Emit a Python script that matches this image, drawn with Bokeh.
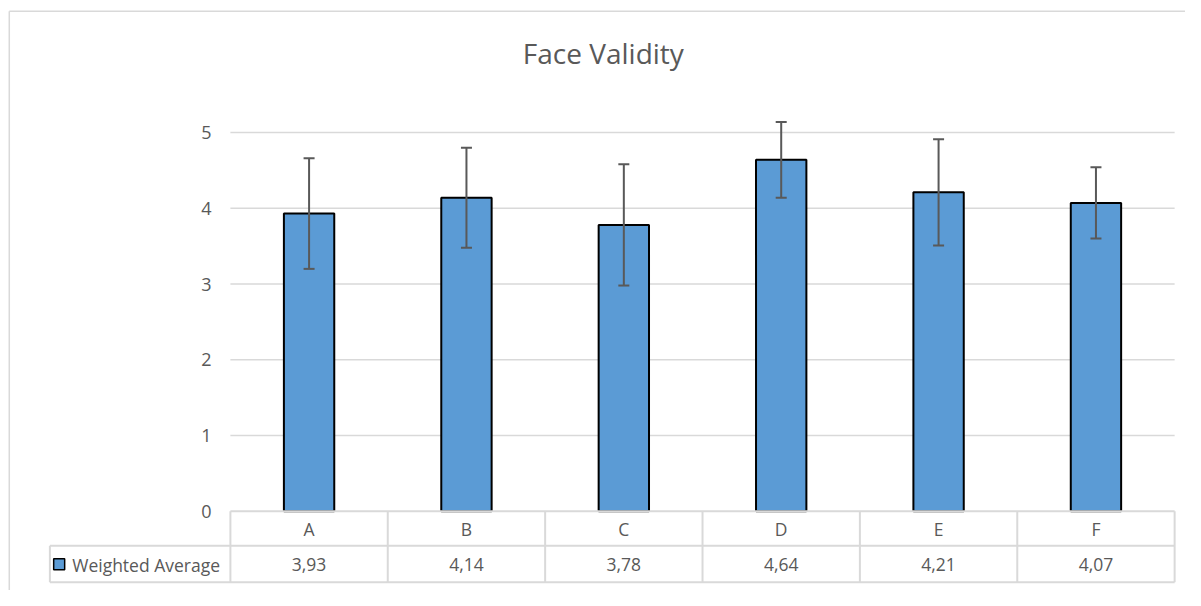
from bokeh.plotting import figure
from bokeh.models import Range1d, ColumnDataSource, Whisker, TeeHead
from bokeh.core.properties import value
from bokeh.embed import file_html
from bokeh.resources import INLINE

# ---- data ----
categories = ["A", "B", "C", "D", "E", "F"]
weighted_average = [3.93, 4.14, 3.78, 4.64, 4.21, 4.07]
error = [0.73, 0.66, 0.80, 0.50, 0.70, 0.47]
value_labels = ["3,93", "4,14", "3,78", "4,64", "4,21", "4,07"]
y_ticks = [0, 1, 2, 3, 4, 5]
series_name = "Weighted Average"
title_text = "Face Validity"

# ---- styles ----
BAR = "#5B9BD5"
GRID = "#D9D9D9"
TXT = "#595959"
FONT = value("Open Sans")

W, H = 1185, 590
p = figure(width=W, height=H, output_backend="svg", toolbar_location=None,
           x_range=Range1d(-1.4608, 6.069), y_range=Range1d(-1.0463, 6.743),
           min_border=0, outline_line_color=None)
p.axis.visible = False
p.xgrid.visible = False
p.ygrid.visible = False

n = len(categories)
centers = [i + 0.5 for i in range(n)]

# chart border (top + left)
p.segment(x0=[-1.405, -1.405], y0=[6.602, 6.602], x1=[6.2, -1.405], y1=[6.602, -1.1],
          line_color=GRID, line_width=1.5)

# gridlines
gy = [t for t in y_ticks if t > 0]
p.segment(x0=[0] * len(gy), x1=[n] * len(gy), y0=gy, y1=gy, line_color=GRID, line_width=1.5)

# bars
src = ColumnDataSource(dict(
    x=centers, top=weighted_average,
    upper=[v + e for v, e in zip(weighted_average, error)],
    lower=[v - e for v, e in zip(weighted_average, error)],
))
p.vbar(x="x", top="top", width=0.32, bottom=0, source=src,
       fill_color=BAR, line_color="black", line_width=2)

wh = Whisker(base="x", upper="upper", lower="lower", source=src,
             line_color=TXT, line_width=2, level="annotation",
             upper_head=TeeHead(size=11, line_color=TXT, line_width=2),
             lower_head=TeeHead(size=11, line_color=TXT, line_width=2))
p.add_layout(wh)

# data table lines
row_mid = -0.455
row_bot = -0.937
leg_left = -1.147
hx0 = [0, leg_left, leg_left]
hx1 = [n, n, n]
hy = [0, row_mid, row_bot]
p.segment(x0=hx0, x1=hx1, y0=hy, y1=hy, line_color=GRID, line_width=2)
vx = list(range(n + 1)) + [leg_left]
vy0 = [0] * (n + 1) + [row_mid]
p.segment(x0=vx, x1=vx, y0=vy0, y1=[row_bot] * len(vx), line_color=GRID, line_width=2)

# category labels and values
p.text(x=centers, y=[-0.236] * n, text=categories, text_align="center", text_baseline="middle",
       text_font=FONT, text_font_size="17.5px", text_color=TXT)
p.text(x=centers, y=[-0.705] * n, text=value_labels, text_align="center", text_baseline="middle",
       text_font=FONT, text_font_size="17.5px", text_color=TXT)

# legend key in the table
p.rect(x=[-1.088], y=[-0.700], width=11, height=11, width_units="screen", height_units="screen",
       fill_color=BAR, line_color="black", line_width=1.5)
p.text(x=[-1.005], y=[-0.705], text=[series_name], text_align="left", text_baseline="middle",
       text_font=FONT, text_font_size="17.5px", text_color=TXT)

# y tick labels
p.text(x=[-0.119] * len(y_ticks), y=y_ticks, text=[str(t) for t in y_ticks],
       text_align="right", text_baseline="middle",
       text_font=FONT, text_font_size="18px", text_color=TXT)

# title
p.text(x=[2.37], y=[6.05], text=[title_text], text_align="center", text_baseline="middle",
       text_font=FONT, text_font_size="28px", text_color=TXT)

open("out.html", "w").write(file_html(p, INLINE))
